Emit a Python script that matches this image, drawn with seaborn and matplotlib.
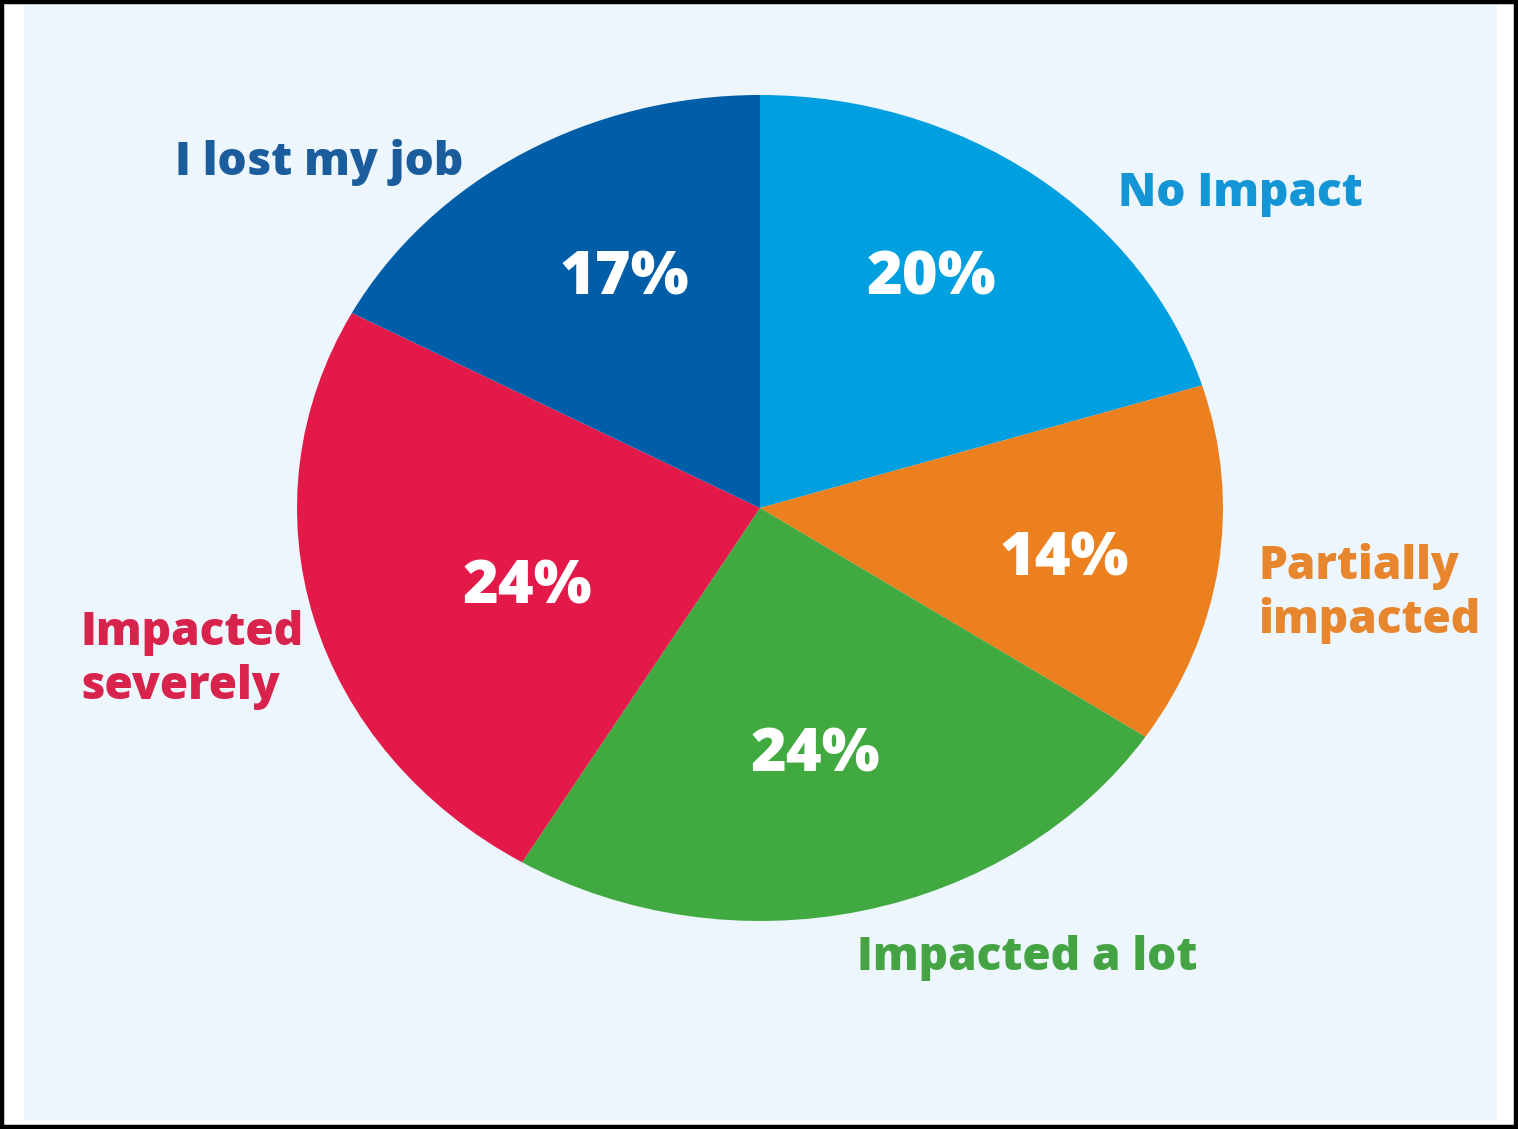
import matplotlib
matplotlib.use("Agg")
import matplotlib.pyplot as plt
from matplotlib.patches import Rectangle
import seaborn as sns

categories = ["No Impact", "Partially\nimpacted", "Impacted a lot", "Impacted\nseverely", "I lost my job"]
values = [20, 14, 24, 24, 17]
pct_labels = ["20%", "14%", "24%", "24%", "17%"]
wedge_colors = ["#009FE0", "#EC801F", "#40A93F", "#E3194A", "#005DA8"]
label_colors = ["#1496D6", "#E8862E", "#44A444", "#D8234C", "#1A5C9C"]

sns.set_theme(style="white")
plt.rcParams["font.family"] = ["Open Sans", "DejaVu Sans"]

W, H = 1518, 1129
fig = plt.figure(figsize=(W / 100, H / 100), dpi=100)
fig.patch.set_facecolor("white")

def fx(px):
    return px / W

def fy(py):
    return 1 - py / H

# background panel and frame
fig.patches.append(Rectangle((fx(24), fy(1120)), (1497 - 24) / W, (1120 - 4) / H,
                             transform=fig.transFigure, facecolor="#EEF6FD", edgecolor="none", zorder=-2))
fig.patches.append(Rectangle((0.0015, 0.002), 0.997, 0.996, transform=fig.transFigure,
                             facecolor="none", edgecolor="black", linewidth=3.2, zorder=5))

# pie axes (elliptical pie)
cx, cy, rx, ry = 760, 508, 463, 413
ax = fig.add_axes([fx(cx - rx), fy(cy + ry), 2 * rx / W, 2 * ry / H])
ax.set_zorder(1)
ax.set_facecolor("none")
pal = sns.color_palette(wedge_colors)
wedges, _ = ax.pie(values, colors=pal, startangle=90, counterclock=False,
                   wedgeprops=dict(linewidth=0))
ax.set_aspect("auto")
ax.set_xlim(-1, 1)
ax.set_ylim(-1, 1)
ax.axis("off")

# percent labels (pixel positions: center x, baseline y)
pct_pos = [(931, 294), (1064, 576), (815, 771), (527, 603), (624, 294)]
for lab, (px, py) in zip(pct_labels, pct_pos):
    fig.text(fx(px), fy(py), lab, color="white", fontsize=44, fontweight="heavy",
             ha="center", va="baseline", zorder=3)

# category labels (pixel anchors: left x, baseline of first line)
label_pos = [(1118, 206), (1258, 579), (857, 970), (80, 645), (175, 175)]
line_gap = 54
for name, col, (px, py) in zip(categories, label_colors, label_pos):
    for i, line in enumerate(name.split("\n")):
        fig.text(fx(px), fy(py + i * line_gap), line, color=col, fontsize=33,
                 fontweight="heavy", ha="left", va="baseline", zorder=3)

fig.savefig("out.png", dpi=100, facecolor=fig.get_facecolor())
